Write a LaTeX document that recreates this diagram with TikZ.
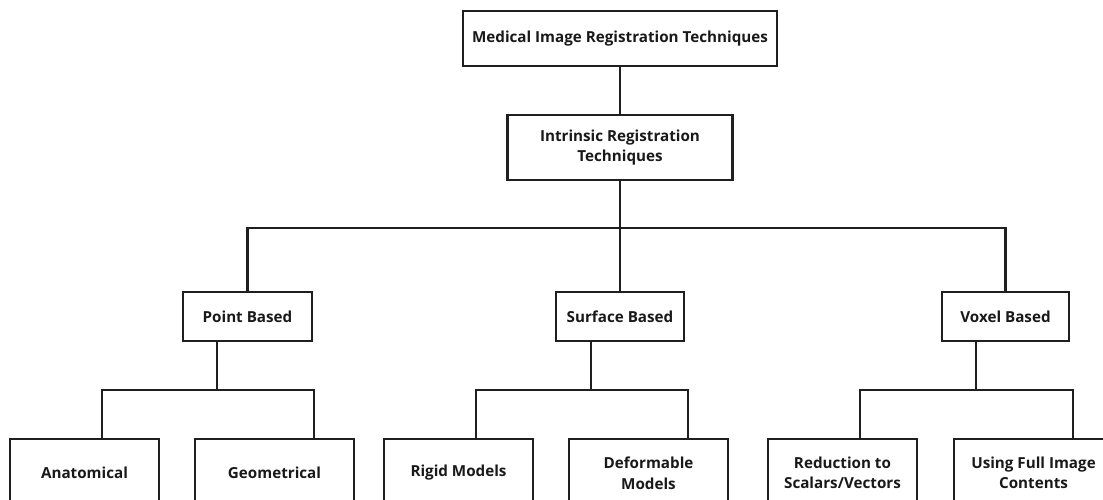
\documentclass[tikz,border=0pt]{standalone}
\usepackage{fontspec}
\setmainfont{Open Sans}
\begin{document}
\begin{tikzpicture}[x=1pt,y=-1pt,
  box/.style={draw=black!88, line width=2.4pt, fill=white, align=center, inner sep=0pt,
    font=\bfseries\fontsize{15.2}{20.5}\selectfont, text=black!90},
  conn/.style={draw=black!88, line width=2.4pt}]
\useasboundingbox (0,0) rectangle (1103,499);
\clip (0,0) rectangle (1103,499);
\node[box, minimum width=314pt, minimum height=55pt] (top) at (620,38.5) {Medical Image Registration Techniques};
\node[box, minimum width=225pt, minimum height=65pt] (intr) at (620,147.5) {Intrinsic Registration\\Techniques};
\node[box, minimum width=129pt, minimum height=49pt] (point) at (247.5,316.5) {Point Based};
\node[box, minimum width=128pt, minimum height=49pt] (surf) at (620,316.5) {Surface Based};
\node[box, minimum width=127pt, minimum height=49pt] (vox) at (1005.5,316.5) {Voxel Based};
\node[box, minimum width=149pt, minimum height=68pt] (anat) at (84.5,473) {Anatomical};
\node[box, minimum width=159pt, minimum height=68pt] (geom) at (274.5,473) {Geometrical};
\node[box, minimum width=149pt, minimum height=68pt] (rigid) at (458.5,473) {Rigid Models};
\node[box, minimum width=159pt, minimum height=68pt] (deform) at (648.5,473) {Deformable\\Models};
\node[box, minimum width=149pt, minimum height=68pt] (reduc) at (842.5,473) {Reduction to\\Scalars/Vectors};
\node[box, minimum width=159pt, minimum height=68pt] (using) at (1033.5,473) {Using Full Image\\Contents};
\coordinate (j1) at (620,228);
\coordinate (jp) at (217,390);
\coordinate (js) at (591,390);
\coordinate (jv) at (976,390);
\draw[conn] (top.south) -- (intr.north);
\draw[conn] (intr.south) -- (surf.north);
\draw[conn] (point.north) |- (j1) -| (vox.north);
\draw[conn] (point.south -| jp) -- (jp);
\draw[conn] ([xshift=17.5pt]anat.north) |- (jp) -| ([xshift=39.5pt]geom.north);
\draw[conn] (surf.south -| js) -- (js);
\draw[conn] ([xshift=17.5pt]rigid.north) |- (js) -| ([xshift=39.5pt]deform.north);
\draw[conn] (vox.south -| jv) -- (jv);
\draw[conn] ([xshift=17.5pt]reduc.north) |- (jv) -| ([xshift=39.5pt]using.north);
\end{tikzpicture}
\end{document}
